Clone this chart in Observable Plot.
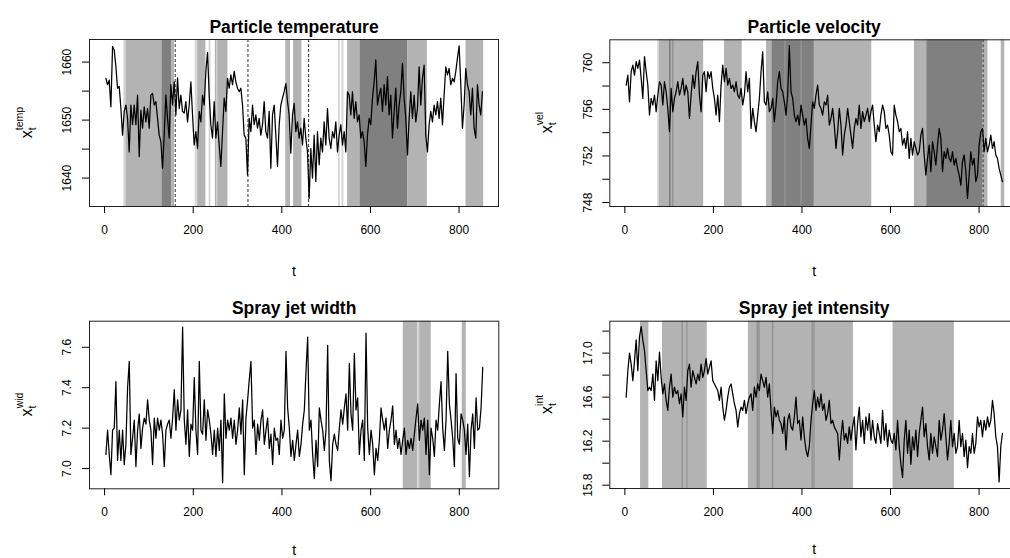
<!DOCTYPE html>
<html>
<head>
<meta charset="utf-8">
<script src="https://cdn.jsdelivr.net/npm/d3@7"></script>
<script src="https://cdn.jsdelivr.net/npm/@observablehq/plot@0.6"></script>
<style>
  html, body { margin: 0; padding: 0; background: #fff; }
  #root { position: relative; width: 1010px; height: 558px; overflow: hidden; background: #fff; }
  #root svg { position: absolute; }
</style>
</head>
<body>
<div id="root"></div>
<script>
// Series, one value every 3.76 time steps starting at t = 3
const sampleT0 = 3;
const sampleDt = 3.76;

const tempValues = [
  1657.2,1656.1,1656.9,1652.3,1662.7,1662.1,1659.2,1655.5,1655.8,1652.0,
  1647.4,1651.5,1652.6,1650.3,1644.5,1652.6,1649.2,1652.6,1649.2,1654.3,
  1643.7,1651.7,1648.6,1652.3,1649.7,1652.0,1648.6,1654.3,1654.6,1652.6,
  1653.2,1650.3,1647.4,1646.3,1641.7,1647.4,1654.3,1650.3,1646.9,1656.1,
  1652.6,1656.6,1650.9,1657.3,1652.0,1654.3,1651.5,1651.2,1653.2,1649.7,
  1652.6,1656.6,1650.9,1645.7,1648.0,1645.1,1651.5,1649.7,1654.3,1652.6,
  1658.4,1661.7,1654.3,1649.2,1646.9,1653.2,1646.9,1649.7,1645.7,1642.0,
  1648.0,1653.8,1651.5,1657.2,1655.5,1657.8,1656.1,1658.4,1656.6,1655.5,
  1654.9,1655.5,1652.6,1647.4,1646.9,1640.5,1650.3,1648.0,1652.6,1649.2,
  1650.9,1648.6,1650.3,1647.4,1649.2,1653.2,1648.0,1646.9,1651.5,1641.7,
  1650.9,1652.6,1647.4,1642.0,1649.2,1652.6,1653.8,1654.9,1656.3,1653.2,
  1650.9,1644.3,1650.9,1652.9,1648.0,1649.7,1646.9,1648.6,1645.7,1650.3,
  1646.9,1644.5,1636.5,1645.1,1640.0,1647.4,1639.4,1648.0,1642.3,1646.9,
  1644.5,1649.7,1645.7,1652.0,1646.9,1645.1,1648.0,1646.9,1649.7,1644.5,
  1647.4,1649.2,1645.7,1648.0,1644.5,1654.9,1654.3,1650.9,1654.9,1650.3,
  1653.2,1649.7,1650.9,1646.9,1648.0,1646.3,1642.0,1647.4,1650.3,1649.2,
  1653.8,1656.6,1660.4,1652.6,1654.3,1655.5,1651.5,1656.1,1652.6,1657.5,
  1650.9,1654.3,1646.9,1651.5,1655.5,1648.6,1652.6,1654.9,1659.8,1653.8,
  1650.3,1644.0,1650.3,1654.9,1650.3,1654.3,1649.7,1652.0,1659.2,1652.6,
  1657.2,1659.5,1647.4,1644.5,1649.2,1651.5,1649.7,1652.6,1650.9,1653.2,
  1650.3,1653.8,1649.2,1654.3,1659.2,1657.8,1658.9,1656.1,1657.2,1656.6,
  1658.4,1660.7,1662.8,1656.1,1648.6,1652.6,1658.9,1656.1,1654.9,1650.9,
  1655.5,1648.6,1646.9,1656.1,1652.6,1650.9,1654.9
];

const velValues = [
  758.08,758.94,756.65,759.23,759.80,758.94,760.09,759.52,760.23,758.66,
  756.94,760.52,759.23,758.08,755.51,756.94,756.37,757.23,755.80,757.23,
  758.37,758.08,756.37,758.37,757.51,756.08,754.08,757.80,755.80,756.94,
  757.51,758.37,757.23,757.80,758.66,757.23,758.08,757.51,755.22,757.23,
  758.94,757.80,759.23,760.09,757.23,755.80,758.94,759.23,757.51,759.23,
  758.66,759.23,757.80,756.94,755.51,757.23,754.94,758.08,759.80,758.37,
  759.52,758.08,758.66,757.80,758.08,757.51,758.37,757.23,756.94,757.80,
  756.37,757.23,759.23,757.51,758.66,754.36,756.08,754.94,754.08,755.51,
  756.94,759.23,760.95,756.65,756.37,757.51,755.80,756.08,756.94,754.94,
  756.37,758.37,759.23,757.80,757.51,756.65,755.51,757.23,761.46,757.51,
  756.94,755.51,754.94,755.51,754.65,756.37,755.51,754.65,755.22,753.51,
  752.65,754.65,756.65,756.08,757.23,758.08,756.37,756.08,755.51,756.65,
  756.37,757.23,754.65,755.22,756.08,754.65,752.65,754.08,756.08,754.65,
  752.08,753.79,754.65,756.08,754.94,753.79,752.65,754.36,755.22,754.65,
  756.37,754.36,755.80,754.94,755.51,756.08,754.94,755.80,756.37,754.65,
  753.22,754.65,754.08,755.51,756.37,755.80,754.36,754.65,753.79,752.36,
  752.08,756.37,755.51,754.94,754.08,754.36,752.93,753.51,752.65,754.08,
  751.79,753.51,752.08,753.22,752.65,752.08,752.36,753.79,754.36,752.08,
  750.36,751.79,752.93,750.65,753.22,752.36,751.22,752.93,754.36,753.51,
  750.65,752.36,751.79,752.65,751.79,751.50,752.36,751.22,751.79,750.93,
  750.36,749.50,751.50,752.08,750.65,748.36,750.36,752.36,751.22,751.79,
  749.79,750.36,752.93,754.08,754.36,752.36,753.51,752.36,752.93,753.79,
  752.65,753.22,752.08,751.79,750.93,750.36,749.79
];

const widValues = [
  7.07,7.19,7.07,6.97,7.19,7.20,7.43,7.04,7.19,7.04,
  7.19,7.02,7.12,7.40,7.53,7.07,7.15,7.24,7.01,7.19,
  7.27,7.10,7.20,7.25,7.22,7.34,7.24,7.19,7.02,7.25,
  7.15,7.25,7.19,7.24,7.17,7.01,7.19,7.22,7.24,7.15,
  7.25,7.39,7.19,7.34,7.24,7.29,7.70,7.24,7.12,7.29,
  7.06,7.22,7.19,7.45,7.19,7.07,7.53,7.19,7.17,7.34,
  7.14,7.29,7.24,7.17,7.07,7.19,7.06,7.20,7.09,7.24,
  6.93,7.37,7.15,7.24,7.19,7.25,7.15,7.24,7.12,7.19,
  7.30,7.17,7.34,6.97,7.25,7.34,7.44,7.53,7.20,7.24,
  7.07,7.22,7.14,7.24,7.29,7.12,7.19,7.25,7.10,7.17,
  7.02,7.20,7.14,7.15,7.07,7.24,7.15,7.19,7.58,7.30,
  7.20,7.06,7.14,7.04,7.12,7.19,7.06,7.12,7.22,7.29,
  7.48,7.65,7.19,7.24,7.07,6.95,7.14,7.01,7.30,7.24,
  7.19,7.09,7.19,7.61,7.04,6.94,7.12,7.17,7.12,7.09,
  7.20,7.29,7.22,7.30,7.37,7.19,7.52,7.27,7.19,7.57,
  7.29,7.35,7.07,7.19,7.24,7.04,7.67,7.20,7.07,7.19,
  7.12,6.97,7.10,7.04,7.14,7.30,7.24,7.19,7.25,7.10,
  7.19,7.24,7.31,7.12,7.19,7.10,7.15,7.07,7.14,7.20,
  7.07,7.14,7.10,7.15,7.09,7.17,7.25,7.32,7.14,7.24,
  7.19,7.25,7.07,7.24,6.97,7.20,7.15,7.06,7.24,7.19,
  7.32,7.43,7.20,7.09,7.24,7.58,7.32,7.24,7.15,7.01,
  7.47,7.15,7.12,7.27,7.24,7.19,7.07,7.22,6.96,7.19,
  7.27,7.10,7.35,7.19,7.20,7.30,7.50
];

const intValues = [
  16.60,16.84,17.00,16.90,16.75,16.93,17.12,16.84,17.15,17.24,
  17.12,17.02,16.84,16.66,16.69,16.66,16.81,16.57,16.93,16.75,
  17.01,16.78,16.63,16.72,16.57,16.48,16.69,16.81,16.60,16.69,
  16.63,16.66,16.54,16.63,16.42,16.69,16.57,16.84,16.90,16.69,
  16.84,16.78,16.72,16.81,16.75,16.90,16.78,16.84,16.95,16.81,
  16.87,16.93,16.75,16.72,16.69,16.66,16.57,16.69,16.51,16.39,
  16.48,16.60,16.69,16.72,16.63,16.54,16.48,16.33,16.45,16.51,
  16.48,16.57,16.45,16.54,16.60,16.63,16.48,16.69,16.60,16.72,
  16.66,16.81,16.75,16.69,16.78,16.60,16.72,16.48,16.27,16.51,
  16.42,16.48,16.39,16.36,16.27,16.42,16.12,16.39,16.45,16.33,
  16.30,16.42,16.60,16.36,16.39,16.21,16.42,16.24,16.12,16.06,
  16.15,16.39,16.54,16.66,16.48,16.60,16.51,16.63,16.48,16.54,
  16.39,16.45,16.57,16.36,16.39,16.33,16.30,16.27,16.03,16.24,
  16.39,16.21,16.27,16.18,16.33,16.21,16.33,16.42,16.12,16.36,
  16.51,16.24,16.39,16.18,16.42,16.30,16.45,16.21,16.39,16.24,
  16.18,16.36,16.27,16.18,16.48,16.21,16.36,16.15,16.30,16.21,
  16.18,16.27,16.12,16.39,16.15,15.99,15.87,16.21,16.39,16.09,
  16.30,15.99,16.24,16.12,16.30,16.06,16.27,16.39,16.51,16.24,
  16.36,16.15,16.03,16.27,16.09,16.24,16.15,16.06,16.39,16.21,
  16.30,16.45,16.24,16.03,16.18,16.39,16.15,16.27,16.09,16.15,
  16.39,16.15,16.27,16.06,16.21,15.96,16.15,16.09,16.27,16.09,
  16.18,16.42,16.33,16.39,16.24,16.39,16.30,16.42,16.33,16.39,
  16.57,16.45,16.24,16.15,15.83,16.15,16.27
];

// Shaded regimes [start t, end t, shade]
const tempBands = [
  [43.6,48.2,"light"],[48.2,129.4,"mid"],[129.4,152,"dark"],[152,158,"mid"],
  [204.7,209.2,"light"],[210,228.7,"mid"],[236,240,"light"],[250,278.4,"mid"],[253,256,"light"],
  [409,419.5,"mid"],[426.6,445.4,"mid"],[528,532,"light"],[536,540,"light"],
  [548.5,576.4,"mid"],[576.4,684.7,"dark"],[684.7,728.4,"mid"],[815.7,855.5,"mid"]
];
const velBands = [
  [74.5,78.3,"light"],[78.3,178,"mid"],[100.8,104.5,"dark"],[108.5,110.5,"dark"],
  [225,265,"mid"],[320,332,"mid"],[332,428,"dark"],[362.2,363.4,"mid"],[398.4,399.6,"mid"],
  [428,557.6,"mid"],[654,681.8,"mid"],[681.8,808,"dark"],[808,820,"mid"],[850,858,"mid"]
];
const widBands = [
  [673.5,706.6,"mid"],[706.6,710.5,"light"],[710.5,736.7,"mid"],[806.6,815.7,"mid"]
];
const intBands = [
  [35.4,54.2,"mid"],[85,186,"mid"],[129.4,132,"line"],[140,142.5,"line"],
  [279,516.2,"mid"],[298.7,301.5,"line"],[302.5,305.5,"line"],[333.3,336.3,"line"],
  [422.9,425.5,"line"],[427,429.5,"line"],[605.7,744.2,"mid"]
];

const tempDashes = [159.5, 323.6, 460.5];
const velDashes = [809];

const xTicks = [0, 200, 400, 600, 800];
const tempTicks = [1640, 1645, 1650, 1655, 1660], tempLabels = [1640, 1650, 1660];
const velTicks = [748, 750, 752, 754, 756, 758, 760], velLabels = [748, 752, 756, 760];
const widTicks = [7.0, 7.2, 7.4, 7.6], widLabels = [7.0, 7.2, 7.4, 7.6];
const intTicks = [15.8, 16.0, 16.2, 16.4, 16.6, 16.8, 17.0, 17.2], intLabels = [15.8, 16.2, 16.6, 17.0];

const shade = {light: "#d4d4d4", mid: "#b3b3b3", dark: "#808080", line: "#8e8e8e"};
const font = "'Liberation Sans', Arial, Helvetica, sans-serif";
const root = document.getElementById("root");

function panel(cfg) {
  const data = cfg.values.map((v, i) => ({t: sampleT0 + i * sampleDt, v}));
  const svg = Plot.plot({
    width: cfg.width, height: 279,
    marginLeft: cfg.ml, marginRight: cfg.mr, marginTop: cfg.mt, marginBottom: cfg.mb,
    x: {domain: [-34, 889]},
    y: {domain: cfg.yDomain},
    style: {fontFamily: font, background: "transparent", color: "black", overflow: "visible"},
    marks: [
      Plot.rect(cfg.bands, {x1: d => d[0], x2: d => d[1], fill: d => shade[d[2]]}),
      Plot.ruleX(cfg.dashes || [], {x: d => d, stroke: "#333", strokeWidth: 1, strokeDasharray: "3,2"}),
      Plot.lineY(data, {x: "t", y: "v", stroke: "black", strokeWidth: 1.25}),
      Plot.frame({stroke: "#222", strokeWidth: 1}),
      Plot.axisX({ticks: xTicks, tickSize: 7, tickPadding: 12, fontSize: 12, label: null, tickFormat: d => String(d)}),
      Plot.axisY({ticks: cfg.yTicks, tickSize: 7, label: null, tickFormat: () => ""}),
      Plot.text(cfg.yLabels, {y: d => d, text: d => cfg.fmt(d), frameAnchor: "left", dx: -22, rotate: -90,
        lineAnchor: "middle", textAnchor: "middle", fontSize: 12}),
      Plot.text([cfg.title], {text: d => d, frameAnchor: "top", dy: -7, lineAnchor: "bottom",
        fontSize: 17.5, fontWeight: "bold"}),
      Plot.text(["t"], {text: d => d, frameAnchor: "bottom", dy: cfg.tdy, lineAnchor: "top", fontSize: 14})
    ]
  });
  svg.style.left = cfg.left + "px";
  svg.style.top = cfg.top + "px";
  // y-axis title x_t^name
  const cy = cfg.mt + (279 - cfg.mt - cfg.mb) / 2;
  const lab = d3.select(svg).append("text")
    .attr("transform", `translate(${cfg.ml - 57},${cy}) rotate(-90)`)
    .attr("text-anchor", "middle")
    .attr("font-family", font)
    .attr("font-size", 16)
    .attr("fill", "black");
  lab.append("tspan").text("x");
  lab.append("tspan").attr("font-size", 10.5).attr("dy", 3.5).text("t");
  lab.append("tspan").attr("font-size", 10.5).attr("dx", -2.9).attr("dy", -12.5).text(cfg.sup);
  root.appendChild(svg);
}

panel({left: 0, top: 0, width: 505, ml: 89, mr: 7, mt: 39, mb: 73, tdy: 60,
  values: tempValues, yDomain: [1635.1, 1663.9], yTicks: tempTicks, yLabels: tempLabels, fmt: d => String(d),
  title: "Particle temperature", sup: "temp", bands: tempBands, dashes: tempDashes});
panel({left: 505, top: 0, width: 520, ml: 104.3, mr: 7, mt: 39.3, mb: 73, tdy: 60,
  values: velValues, yDomain: [747.66, 761.97], yTicks: velTicks, yLabels: velLabels, fmt: d => String(d),
  title: "Particle velocity", sup: "vel", bands: velBands, dashes: velDashes});
panel({left: 0, top: 279, width: 505, ml: 89, mr: 6.7, mt: 41.7, mb: 69.7, tdy: 56,
  values: widValues, yDomain: [6.9, 7.729], yTicks: widTicks, yLabels: widLabels, fmt: d => d.toFixed(1),
  title: "Spray jet width", sup: "wid", bands: widBands});
panel({left: 505, top: 279, width: 520, ml: 104.3, mr: 7, mt: 41.7, mb: 70, tdy: 56,
  values: intValues, yDomain: [15.77, 17.29], yTicks: intTicks, yLabels: intLabels, fmt: d => d.toFixed(1),
  title: "Spray jet intensity", sup: "int", bands: intBands});
</script>
</body>
</html>
